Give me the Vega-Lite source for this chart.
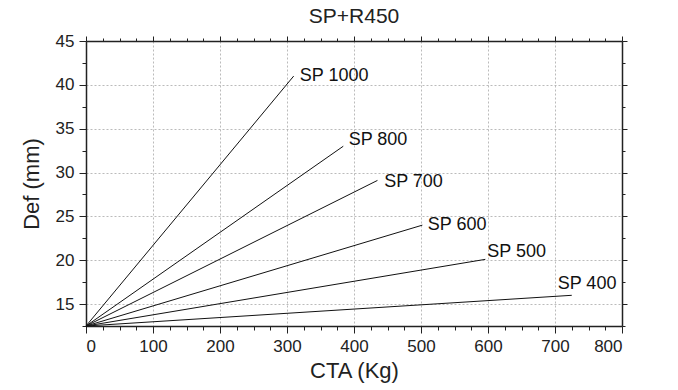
{
  "$schema": "https://vega.github.io/schema/vega-lite/v6.json",
  "width": 536,
  "height": 285,
  "autosize": "none",
  "padding": {"left": 86, "top": 41, "right": 56, "bottom": 64},
  "background": "white",
  "config": {
    "font": "Liberation Sans",
    "view": {"stroke": null},
    "axis": {"domainColor": "#222", "tickColor": "#222", "labelColor": "#222", "titleColor": "#222", "domainWidth": 1.5, "labelFontSize": 17, "titleFontSize": 22, "titleFontWeight": "normal", "gridColor": "#aaa", "gridDash": [2, 2], "gridWidth": 0.8}
  },
  "title": {"text": "SP+R450", "fontSize": 21, "fontWeight": "normal", "color": "#222", "offset": 5, "anchor": "middle"},
  "datasets": {
    "lines": [
      {"series": "SP 1000", "cta": 0, "def": 12.5}, {"series": "SP 1000", "cta": 310, "def": 41},
      {"series": "SP 800", "cta": 0, "def": 12.5}, {"series": "SP 800", "cta": 384, "def": 33},
      {"series": "SP 700", "cta": 0, "def": 12.5}, {"series": "SP 700", "cta": 435, "def": 29.1},
      {"series": "SP 600", "cta": 0, "def": 12.5}, {"series": "SP 600", "cta": 502, "def": 24},
      {"series": "SP 500", "cta": 0, "def": 12.5}, {"series": "SP 500", "cta": 596, "def": 20.1},
      {"series": "SP 400", "cta": 0, "def": 12.5}, {"series": "SP 400", "cta": 725, "def": 16}
    ],
    "labels": [
      {"series": "SP 1000", "lx": 319, "ly": 41.0},
      {"series": "SP 800", "lx": 392, "ly": 33.75},
      {"series": "SP 700", "lx": 445, "ly": 28.9},
      {"series": "SP 600", "lx": 510, "ly": 24.0},
      {"series": "SP 500", "lx": 599, "ly": 20.9},
      {"series": "SP 400", "lx": 704, "ly": 17.3}
    ]
  },
  "layer": [
    {
      "data": {"name": "lines"},
      "mark": {"type": "line", "color": "#111", "strokeWidth": 1},
      "encoding": {
        "x": {"field": "cta", "type": "quantitative", "scale": {"domain": [0, 800], "nice": false},
          "axis": {"orient": "bottom", "title": "CTA (Kg)", "titlePadding": 6, "values": [0,25,50,75,100,125,150,175,200,225,250,275,300,325,350,375,400,425,450,475,500,525,550,575,600,625,650,675,700,725,750,775,800],
            "labelExpr": "datum.value % 100 === 0 ? datum.label : ''", "labelPadding": 5,
            "tickSize": {"condition": {"test": "datum.value % 100 === 0", "value": 7}, "value": 4},
            "gridOpacity": {"condition": {"test": "datum.value % 100 === 0 && datum.value > 0 && datum.value < 800", "value": 1}, "value": 0}}},
        "y": {"field": "def", "type": "quantitative", "scale": {"domain": [12.5, 45], "nice": false, "zero": false},
          "axis": {"orient": "left", "title": "Def (mm)", "titlePadding": 12, "values": [12.5,15,17.5,20,22.5,25,27.5,30,32.5,35,37.5,40,42.5,45],
            "labelExpr": "datum.value % 5 === 0 ? datum.label : ''", "labelPadding": 5,
            "tickSize": {"condition": {"test": "datum.value % 5 === 0", "value": 7}, "value": 4},
            "gridOpacity": {"condition": {"test": "datum.value % 5 === 0 && datum.value < 45", "value": 1}, "value": 0}}},
        "detail": {"field": "series"}
      }
    },
    {
      "data": {"name": "labels"},
      "mark": {"type": "text", "align": "left", "baseline": "middle", "fontSize": 18, "color": "#111"},
      "encoding": {
        "x": {"field": "lx", "type": "quantitative",
          "axis": {"orient": "top", "title": null, "labels": false, "grid": false, "values": [0,25,50,75,100,125,150,175,200,225,250,275,300,325,350,375,400,425,450,475,500,525,550,575,600,625,650,675,700,725,750,775,800],
            "tickSize": {"condition": {"test": "datum.value % 100 === 0", "value": 5}, "value": 3}}},
        "y": {"field": "ly", "type": "quantitative",
          "axis": {"orient": "right", "title": null, "labels": false, "grid": false, "values": [12.5,15,17.5,20,22.5,25,27.5,30,32.5,35,37.5,40,42.5,45],
            "tickSize": {"condition": {"test": "datum.value % 5 === 0", "value": 5}, "value": 3}}},
        "text": {"field": "series"}
      }
    }
  ]
}
